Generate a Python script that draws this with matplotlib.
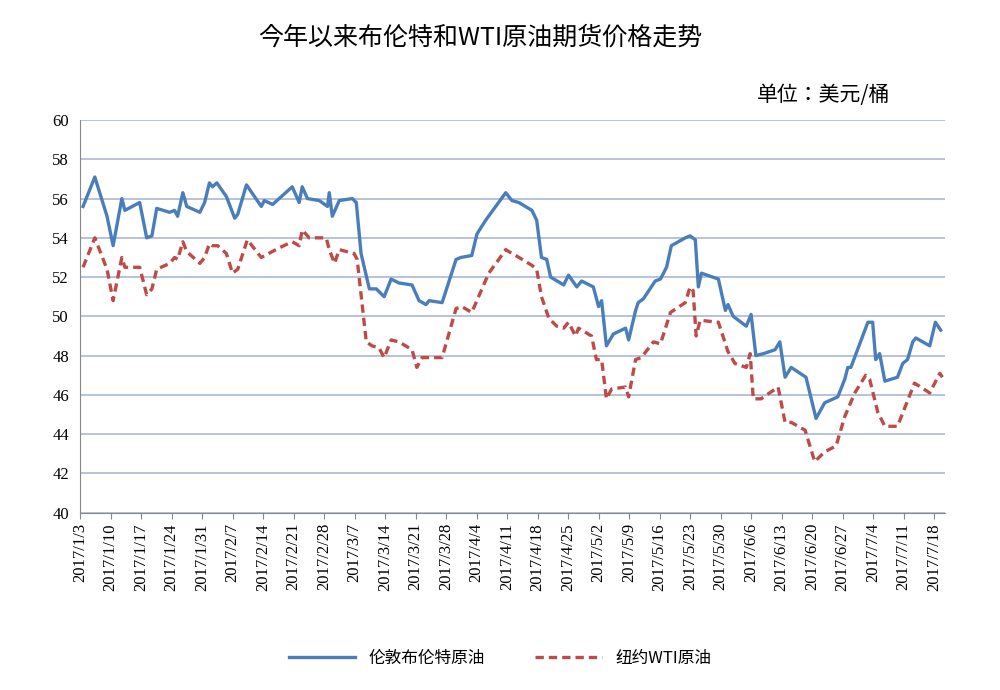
import matplotlib
matplotlib.use("Agg")
import matplotlib.pyplot as plt
import datetime as dt

plt.rcParams["font.family"] = ["Noto Sans CJK SC", "Noto Sans CJK JP", "Noto Sans CJK TC",
                               "Noto Sans CJK KR", "DejaVu Sans"]

title = "今年以来布伦特和WTI原油期货价格走势"
unit = "单位：美元/桶"
brent_name = "伦敦布伦特原油"
wti_name = "纽约WTI原油"
start = dt.date(2017, 1, 3)

# day offsets from 2017/1/3
brent_days = [0.7,3.4,6.2,7.6,9.6,10.3,13.7,15.3,16.5,17.6,
    20.6,21.7,22.4,23.6,24.5,27.5,28.6,29.7,30.4,31.4,
    33.6,35.5,36.2,38.2,41.6,42.3,44.2,48.7,50.3,51.0,
    52.2,54.9,56.8,57.2,57.9,59.5,62.5,63.4,64.5,66.4,
    68.0,69.8,71.4,73.2,76.2,77.8,79.4,80.1,83.1,86.3,
    87.4,89.9,91.1,93.1,97.7,99.1,100.7,103.7,104.8,105.9,
    107.1,108.0,111.0,112.1,114.0,115.1,117.8,119.0,119.7,120.8,
    122.4,125.2,125.9,127.5,128.1,129.3,132.0,133.2,134.6,135.7,
    138.9,140.0,141.2,141.9,142.6,146.5,148.1,148.7,149.9,152.9,
    154.0,155.1,156.8,159.5,160.6,161.8,163.2,166.6,168.9,170.9,
    173.9,175.5,176.2,176.9,180.8,181.9,182.6,183.5,184.7,187.6,
    188.8,189.9,191.1,191.8,195.0,196.3,197.5]
brent = [55.6,57.1,55.1,53.6,56.0,55.4,55.8,54.0,54.1,55.5,
    55.3,55.4,55.1,56.3,55.6,55.3,55.8,56.8,56.6,56.8,
    56.1,55.0,55.2,56.7,55.6,55.9,55.7,56.6,55.8,56.6,
    56.0,55.9,55.6,56.3,55.1,55.9,56.0,55.8,53.2,51.4,
    51.4,51.0,51.9,51.7,51.6,50.8,50.6,50.8,50.7,52.9,
    53.0,53.1,54.2,54.9,56.3,55.9,55.8,55.4,54.9,53.0,
    52.9,52.0,51.6,52.1,51.5,51.8,51.5,50.5,50.8,48.5,
    49.1,49.4,48.8,50.3,50.7,50.9,51.8,51.9,52.5,53.6,
    54.0,54.1,53.9,51.5,52.2,51.9,50.3,50.6,50.0,49.5,
    50.1,48.0,48.1,48.3,48.7,46.9,47.4,46.9,44.8,45.6,
    45.9,46.8,47.4,47.4,49.7,49.7,47.8,48.1,46.7,46.9,
    47.6,47.8,48.7,48.9,48.5,49.7,49.3]

wti_days = [0.7,3.4,6.2,7.6,9.6,10.3,13.7,15.3,16.5,17.6,
    20.6,21.7,22.4,23.6,24.5,27.5,28.6,29.7,30.4,31.6,
    33.6,35.0,36.2,38.4,41.6,45.8,48.7,50.3,51.0,52.6,
    56.5,57.2,58.4,59.5,62.9,63.6,65.7,67.0,68.6,69.8,
    71.4,73.2,76.2,77.3,78.5,80.8,83.1,86.3,87.6,89.9,
    93.8,96.1,97.7,98.4,100.0,103.7,104.8,105.9,107.6,109.4,
    111.0,112.1,113.7,114.4,117.4,118.5,119.7,120.8,122.0,125.2,
    125.9,127.5,128.8,131.6,133.2,135.5,138.9,140.0,140.7,141.4,
    142.3,146.5,148.7,150.3,152.9,153.8,154.5,156.3,160.2,161.8,
    163.2,166.4,168.6,170.9,173.5,175.5,177.8,180.3,181.2,183.1,
    184.7,187.6,191.5,195.0,197.3,197.9]
wti = [52.5,54.0,52.4,50.8,53.0,52.5,52.5,51.1,51.4,52.4,
    52.7,53.0,52.9,53.8,53.3,52.7,53.0,53.7,53.6,53.6,
    53.2,52.2,52.4,53.9,53.0,53.5,53.8,53.6,54.4,54.0,
    54.0,53.4,52.7,53.4,53.2,52.9,48.7,48.5,48.4,47.9,
    48.8,48.7,48.3,47.4,47.9,47.9,47.9,50.4,50.5,50.2,
    52.2,52.9,53.4,53.3,53.1,52.6,52.4,51.0,49.9,49.5,
    49.4,49.7,49.0,49.4,49.0,47.8,47.8,45.8,46.3,46.4,
    45.9,47.8,47.9,48.7,48.6,50.2,50.7,51.5,51.3,49.0,
    49.8,49.7,48.2,47.6,47.4,48.1,45.8,45.8,46.4,44.6,
    44.6,44.2,42.6,43.1,43.4,44.9,46.1,47.0,46.8,45.1,
    44.4,44.4,46.6,46.1,47.1,46.9]

tick_days = list(range(0, 197, 7))
tick_labels = []
for d in tick_days:
    t = start + dt.timedelta(days=d)
    tick_labels.append(f"{t.year}/{t.month}/{t.day}")

serif = "Liberation Serif"

fig = plt.figure(figsize=(10, 6.9), dpi=100)
ax = fig.add_axes([0.08, 0.257, 0.865, 0.569])
ax.plot(brent_days, brent, color="#4a7ebb", lw=2.4, label=brent_name)
ax.plot(wti_days, wti, color="#be4b48", lw=2.4, ls=(0, (2.5, 1.5)), label=wti_name)
ax.set_ylim(40, 60)
ax.set_xlim(0, 198.5)
ax.set_yticks(range(40, 61, 2))
ax.set_yticklabels([str(v) for v in range(40, 61, 2)], fontfamily=serif, fontsize=12)
ax.set_xticks(tick_days)
ax.set_xticklabels(tick_labels, rotation=90, fontfamily=serif, fontsize=12)
ax.grid(axis="y", color="#a9b9d6", lw=1.2)
ax.set_axisbelow(True)
for s in ["top", "right"]:
    ax.spines[s].set_visible(False)
for s in ["left", "bottom"]:
    ax.spines[s].set_color("#888888")
ax.tick_params(axis="y", length=0, pad=8)
ax.tick_params(axis="x", length=4, color="#888888")

fig.text(0.48, 0.945, title, ha="center", va="center", fontsize=18)
fig.text(0.89, 0.862, unit, ha="right", va="center", fontsize=15)
fig.legend(loc="center", bbox_to_anchor=(0.5, 0.046), ncol=2, frameon=False,
           prop={"size": 12}, handlelength=4, columnspacing=3)
fig.savefig("out.png", dpi=100)
